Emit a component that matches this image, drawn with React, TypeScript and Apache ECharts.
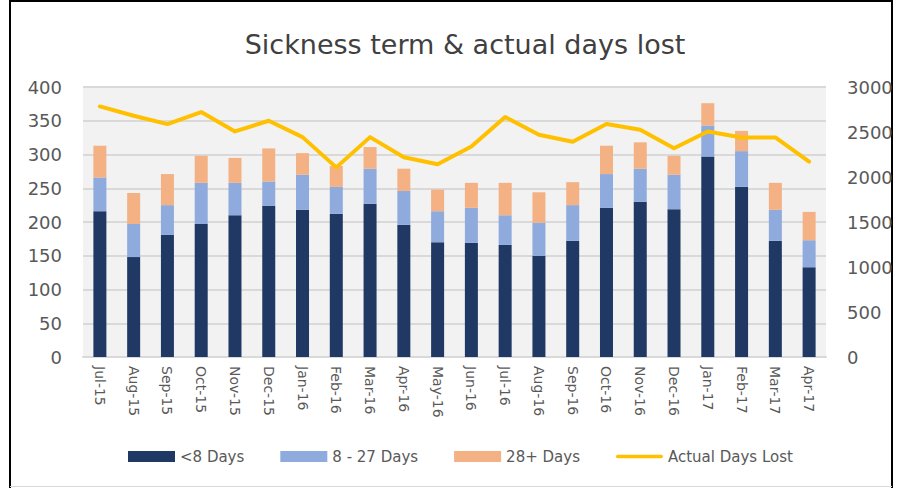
import React, { useEffect, useRef } from "react";
import * as echarts from "echarts";

const categories = [
  "Jul-15", "Aug-15", "Sep-15", "Oct-15", "Nov-15", "Dec-15", "Jan-16", "Feb-16",
  "Mar-16", "Apr-16", "May-16", "Jun-16", "Jul-16", "Aug-16", "Sep-16", "Oct-16",
  "Nov-16", "Dec-16", "Jan-17", "Feb-17", "Mar-17", "Apr-17",
];
const under8Days = [216, 148, 181, 197, 210, 224, 218, 212, 227, 196, 170, 169, 166, 150, 172, 221, 230, 219, 297, 252, 172, 133];
const days8to27 = [50, 49, 44, 61, 48, 36, 52, 40, 52, 50, 46, 52, 44, 49, 53, 50, 49, 51, 46, 53, 46, 40];
const days28plus = [47, 46, 46, 40, 37, 49, 32, 31, 32, 33, 32, 37, 48, 45, 34, 42, 39, 28, 33, 30, 40, 42];
const actualDaysLost = [2784, 2680, 2588, 2721, 2506, 2625, 2443, 2107, 2443, 2220, 2142, 2339, 2666, 2469, 2391, 2588, 2524, 2320, 2506, 2439, 2439, 2171];

const FONT = "DejaVu Sans";
const GREY_TEXT = "#595959";

export default function App() {
  const ref = useRef<HTMLDivElement>(null);
  useEffect(() => {
    if (!ref.current) return;
    const chart = echarts.init(ref.current, undefined, { renderer: "svg" });
    chart.setOption({
      animation: false,
      backgroundColor: "#ffffff",
      title: {
        text: "Sickness term & actual days lost",
        left: 460,
        top: 26,
        textAlign: "center",
        textStyle: { fontFamily: FONT, fontSize: 27, fontWeight: "normal", color: "#404040" },
      },
      legend: {
        left: 128,
        top: 449,
        padding: 0,
        itemWidth: 47,
        itemHeight: 11,
        itemGap: 36,
        textStyle: { fontFamily: FONT, fontSize: 15, color: GREY_TEXT },
        data: [
          { name: "<8 Days", icon: "rect" },
          { name: "8 - 27 Days", icon: "rect" },
          { name: "28+ Days", icon: "rect" },
          {
            name: "Actual Days Lost",
            icon: "path://M2,0 L51,0 A2,2 0 0 1 51,4 L2,4 A2,2 0 0 1 2,0 Z",
            symbolKeepAspect: true,
            itemStyle: { color: "#FFC000" },
          },
        ],
      },
      grid: {
        left: 83,
        right: 71,
        top: 87,
        bottom: 131,
        show: true,
        backgroundColor: "#F2F2F2",
        borderWidth: 0,
      },
      xAxis: {
        type: "category",
        data: categories,
        axisLine: { lineStyle: { color: "#D9D9D9", width: 2 } },
        axisTick: { show: false },
        axisLabel: {
          interval: 0,
          rotate: -90,
          margin: 9,
          fontFamily: FONT,
          fontSize: 14,
          color: GREY_TEXT,
        },
      },
      yAxis: [
        {
          type: "value",
          min: 0,
          max: 400,
          interval: 50,
          axisLine: { show: false },
          axisTick: { show: false },
          splitLine: { lineStyle: { color: "#D9D9D9", width: 2 } },
          axisLabel: { fontFamily: FONT, fontSize: 18, color: GREY_TEXT, margin: 21 },
        },
        {
          type: "value",
          min: 0,
          max: 3000,
          interval: 500,
          axisLine: { show: false },
          axisTick: { show: false },
          splitLine: { show: false },
          axisLabel: {
            fontFamily: FONT,
            fontSize: 18,
            color: GREY_TEXT,
            margin: 21,
            formatter: (v: number) => String(v),
          },
        },
      ],
      series: [
        {
          name: "<8 Days",
          type: "bar",
          stack: "total",
          barWidth: 13,
          data: under8Days,
          itemStyle: { color: "#203864" },
        },
        {
          name: "8 - 27 Days",
          type: "bar",
          stack: "total",
          barWidth: 13,
          data: days8to27,
          itemStyle: { color: "#8FAADC" },
        },
        {
          name: "28+ Days",
          type: "bar",
          stack: "total",
          barWidth: 13,
          data: days28plus,
          itemStyle: { color: "#F4B183" },
        },
        {
          name: "Actual Days Lost",
          type: "line",
          yAxisIndex: 1,
          data: actualDaysLost,
          symbol: "none",
          showSymbol: false,
          z: 5,
          lineStyle: { color: "#FFC000", width: 4, cap: "round", join: "round" },
          itemStyle: { color: "#FFC000" },
        },
      ],
      graphic: [
        {
          type: "polyline",
          shape: { points: [[10, 488], [10, 1], [892, 1], [892, 488]] },
          style: { stroke: "#000000", lineWidth: 2, fill: "none" },
          silent: true,
        },
        {
          type: "line",
          shape: { x1: 10, y1: 486.5, x2: 892, y2: 486.5 },
          style: { stroke: "#D9D9D9", lineWidth: 1 },
          silent: true,
        },
      ],
    });
    return () => chart.dispose();
  }, []);
  return (
    <div
      ref={ref}
      style={{ position: "fixed", left: 0, top: 0, width: 897, height: 488 }}
    />
  );
}
